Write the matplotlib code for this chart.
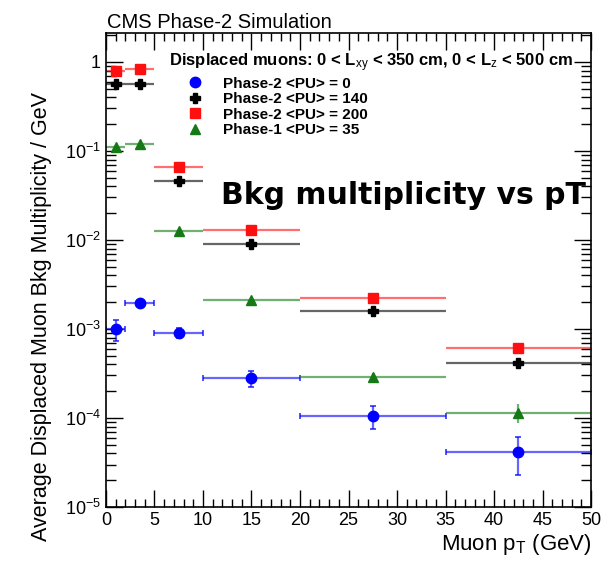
import numpy as np
import matplotlib
matplotlib.use('Agg')
import matplotlib.pyplot as plt
from matplotlib.lines import Line2D
from matplotlib.ticker import MultipleLocator, LogLocator, NullFormatter

plt.rcParams['font.family'] = ['Liberation Sans', 'DejaVu Sans']
plt.rcParams['mathtext.fontset'] = 'custom'
plt.rcParams['mathtext.rm'] = 'Liberation Sans'
plt.rcParams['mathtext.it'] = 'Liberation Sans'
plt.rcParams['mathtext.bf'] = 'Liberation Sans:bold'

# Muon pT bins (GeV)
bin_edges = [0, 2, 5, 10, 20, 35, 50]

# Average displaced muon background multiplicity / GeV
pu0 = [1.0e-3, 1.95e-3, 9.1e-4, 2.8e-4, 1.05e-4, 4.2e-5]
pu0_err = [2.6e-4, 1.5e-4, 1.2e-4, 5.5e-5, 3.0e-5, 1.9e-5]
pu140 = [0.56, 0.57, 0.046, 0.0091, 0.0016, 4.1e-4]
pu200 = [0.79, 0.83, 0.066, 0.013, 0.0022, 6.1e-4]
ph1_pu35 = [0.111, 0.12, 0.0126, 0.0021, 2.9e-4, 1.15e-4]
ph1_err = [0, 0, 0, 0, 3.0e-5, 2.8e-5]

labels = ['Phase-2 <PU> = 0', 'Phase-2 <PU> = 140',
          'Phase-2 <PU> = 200', 'Phase-1 <PU> = 35']

edges = np.array(bin_edges, dtype=float)
centers = 0.5 * (edges[1:] + edges[:-1])
half = 0.5 * (edges[1:] - edges[:-1])

fig = plt.figure(figsize=(6.12, 5.63), dpi=100)
ax = fig.add_axes([0.173, 0.0995, 0.793, 0.8415])

series = [
    (pu0, pu0_err, 'blue', 'o', 7.5),
    (pu140, None, 'black', 'P', 6.5),
    (pu200, None, '#ff1010', 's', 7),
    (ph1_pu35, ph1_err, '#157a15', '^', 7),
]
handles = []
for (vals, err, col, mk, ms), lab in zip(series, labels):
    ax.errorbar(centers, vals, xerr=half, yerr=err, fmt='none',
                ecolor=col, elinewidth=1.6, capsize=0, alpha=0.6)
    ax.plot(centers, vals, linestyle='none', marker=mk, ms=ms,
            color=col, mec=col)
    if col == 'blue':
        # small end caps on blue error bars
        ax.errorbar(centers, vals, xerr=half, yerr=err, fmt='none',
                    ecolor=col, elinewidth=0, capsize=2, capthick=1.2, alpha=0.8)
    handles.append(Line2D([], [], linestyle='none', marker=mk, ms=ms,
                          color=col, mec=col))

ax.set_yscale('log')
ax.set_xlim(0, 50)
ax.set_ylim(1e-5, 2.1)

ax.xaxis.set_major_locator(MultipleLocator(5))
ax.xaxis.set_minor_locator(MultipleLocator(1))
ax.yaxis.set_major_locator(LogLocator(base=10, numticks=10))
ax.yaxis.set_minor_locator(LogLocator(base=10, subs=np.arange(2, 10), numticks=10))
ax.yaxis.set_minor_formatter(NullFormatter())

def ylab(v, pos):
    if v >= 1:
        return '1'
    return r'$10^{%d}$' % int(round(np.log10(v)))
ax.yaxis.set_major_formatter(matplotlib.ticker.FuncFormatter(ylab))

ax.tick_params(which='both', direction='in', top=True, right=True, labelsize=13)
ax.tick_params(which='major', length=12, width=1)
ax.tick_params(which='minor', length=6, width=1)
ax.tick_params(axis='y', which='minor', length=7)
for s in ax.spines.values():
    s.set_linewidth(1.2)

ax.set_xlabel(r'Muon p$_{\rm T}$ (GeV)', fontsize=16, loc='right', labelpad=2)
ax.set_ylabel('Average Displaced Muon Bkg Multiplicity / GeV', fontsize=15.5)
ax.yaxis.set_label_coords(-0.11, 0.403)

fig.text(0.175, 0.951, 'CMS Phase-2 Simulation', fontsize=14.5, ha='left', va='baseline')

leg = ax.legend(handles, labels, loc='upper right', bbox_to_anchor=(0.975, 0.975),
                frameon=False, fontsize=11, handlelength=3.4, handletextpad=0.15,
                labelspacing=0.1, borderaxespad=0.0,
                title=r'Displaced muons: 0 < L$_{xy}$ < 350 cm, 0 < L$_{z}$ < 500 cm',
                title_fontproperties={'size': 12, 'weight': 'bold'},
                alignment='left')
for t in leg.get_texts():
    t.set_fontweight('bold')
leg._legend_box.sep = 2

fig.text(0.957, 0.652, 'Bkg multiplicity vs pT', fontsize=21.5, fontweight='bold',
         family=['DejaVu Sans'], ha='right', va='center')

fig.savefig('out.png', dpi=100)
